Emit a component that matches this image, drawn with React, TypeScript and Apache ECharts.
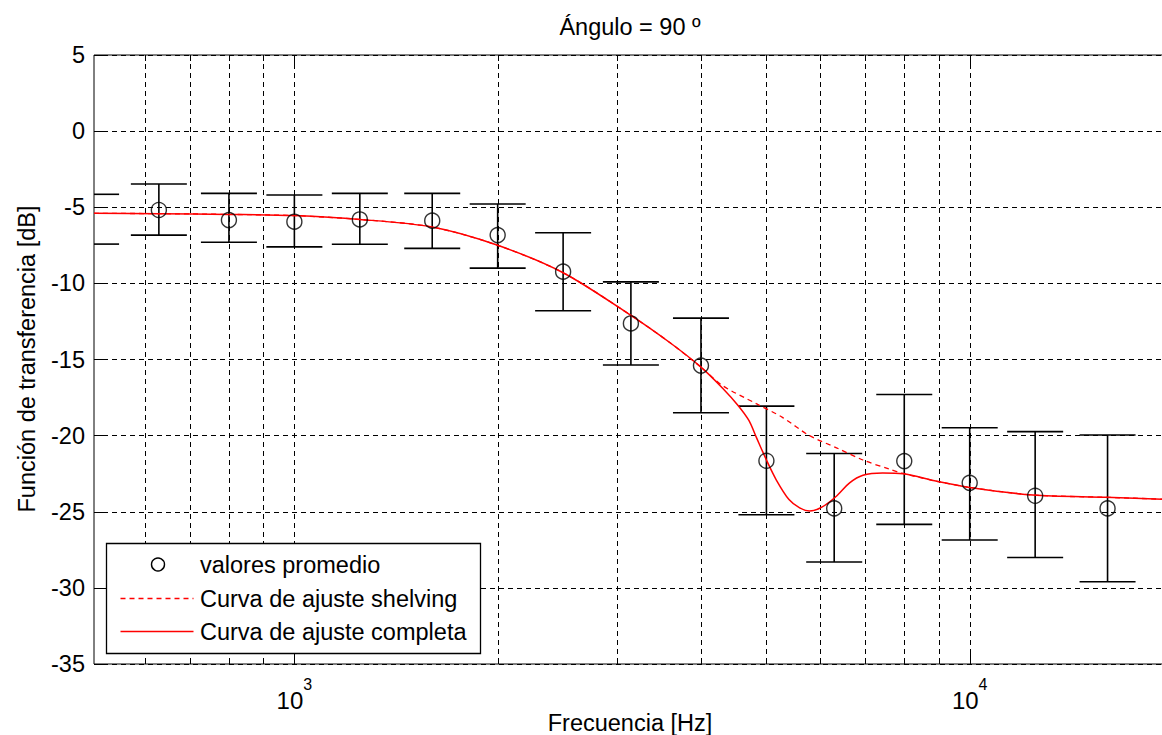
import React, { useEffect, useRef } from 'react';
import * as echarts from 'echarts';

// ---- axis ranges ----
const X_MIN = 505;
const X_MAX = 20000;
const Y_MIN = -35;
const Y_MAX = 5;
const Y_STEP = 5;

// ---- measured points (third-octave bands) ----
const freqs = [500, 630, 800, 1000, 1250, 1600, 2000, 2500, 3150, 4000, 5000, 6300, 8000, 10000, 12500, 16000];
const means = [-5.8, -5.18, -5.84, -5.95, -5.8, -5.88, -6.83, -9.23, -12.63, -15.4, -21.65, -24.78, -21.67, -23.1, -23.95, -24.78];
const upper = [-4.15, -3.47, -4.09, -4.2, -4.09, -4.09, -4.79, -6.67, -9.9, -12.28, -18.06, -21.17, -17.3, -19.48, -19.74, -19.96];
const lower = [-7.42, -6.83, -7.3, -7.6, -7.43, -7.7, -9.0, -11.8, -15.36, -18.5, -25.2, -28.3, -25.83, -26.86, -28.0, -29.6];

// ---- complete fit curve ----
const fullFreqs = [505, 630, 800, 1000, 1250, 1600, 2000, 2500, 3150, 3600, 4000, 4310, 4536, 4710, 4830, 5000, 5170, 5400, 5600, 5790, 6040, 6340, 6640, 6950, 7430, 7970, 8940, 10000, 12400, 15900, 20000];
const fullDb = [-5.4, -5.42, -5.47, -5.55, -5.8, -6.3, -7.5, -9.3, -12.1, -13.9, -15.5, -16.9, -18.0, -19.0, -20.1, -21.6, -22.9, -24.2, -24.75, -24.95, -24.7, -24.0, -23.1, -22.6, -22.45, -22.5, -23.0, -23.4, -23.9, -24.05, -24.2];

// ---- shelving fit curve ----
const shelfFreqs = [505, 630, 800, 1000, 1250, 1600, 2000, 2500, 3150, 3600, 4000, 4300, 4830, 5280, 5790, 6350, 6950, 7600, 8000, 8940, 10000, 12400, 15900, 20000];
const shelfDb = [-5.4, -5.42, -5.47, -5.55, -5.8, -6.3, -7.5, -9.3, -12.1, -13.9, -15.5, -16.7, -17.9, -18.8, -20.0, -20.8, -21.6, -22.2, -22.5, -23.0, -23.4, -23.9, -24.05, -24.2];

// ---- grid / ticks ----
const gridFreqs = [600, 700, 800, 900, 1000, 2000, 3000, 4000, 5000, 6000, 7000, 8000, 9000, 10000];
const majorFreqs = [1000, 10000];
const xTickValues = [1000, 10000];
const xTickBase = '10';
const xTickExp = ['3', '4'];

const titleText = 'Ángulo = 90 º';
const xTitle = 'Frecuencia [Hz]';
const yTitle = 'Función de transferencia [dB]';
const legendLabels = ['valores promedio', 'Curva de ajuste shelving', 'Curva de ajuste completa'];

const FONT = "'Liberation Sans', Arial, Helvetica, sans-serif";
const RED = '#ff0000';
const GRIDC = '#000000';

export default function App() {
  const ref = useRef<HTMLDivElement>(null);
  useEffect(() => {
    const chart = echarts.init(ref.current!, undefined, { renderer: 'svg' });
    const option: any = {
      animation: false,
      backgroundColor: '#fff',
      grid: {
        left: 94, top: 55, width: 1079, height: 609,
        show: true, borderColor: '#000', borderWidth: 1, backgroundColor: '#fff',
      },
      xAxis: {
        type: 'log', logBase: 10, min: X_MIN, max: X_MAX,
        axisLine: { show: false },
        axisTick: { show: false },
        splitLine: { show: false },
        axisLabel: {
          margin: 12,
          formatter: (v: number) => {
            const i = xTickValues.findIndex((t) => Math.abs(Math.log10(v / t)) < 1e-6);
            return i < 0 ? '' : `{b|${xTickBase}}{s|${xTickExp[i]}}`;
          },
          rich: {
            b: { fontSize: 24, fontFamily: FONT, color: '#000', lineHeight: 36, verticalAlign: 'bottom' },
            s: { fontSize: 16, fontFamily: FONT, color: '#000', lineHeight: 16, verticalAlign: 'top' },
          },
        },
      },
      yAxis: {
        type: 'value', min: Y_MIN, max: Y_MAX, interval: Y_STEP,
        axisLine: { show: false },
        axisTick: { show: true, inside: true, length: 10, lineStyle: { color: '#000', width: 1 } },
        splitLine: { show: true, lineStyle: { color: GRIDC, width: 1, type: [5, 4] } },
        axisLabel: { margin: 9, fontSize: 23.5, fontFamily: FONT, color: '#000' },
      },
      series: [
        {
          type: 'custom', name: 'vgrid', silent: true, z: 1,
          data: gridFreqs.map((f) => [f, Y_MIN]),
          encode: { x: 0, y: 1 },
          renderItem: (params: any, api: any) => {
            const f = api.value(0);
            const cs = params.coordSys;
            const x = Math.round(api.coord([f, Y_MIN])[0]) + 0.5;
            const L = majorFreqs.includes(f) ? 11 : 6;
            return {
              type: 'group',
              children: [
                { type: 'line', shape: { x1: x, y1: cs.y, x2: x, y2: cs.y + cs.height }, style: { stroke: GRIDC, lineWidth: 1, lineDash: [5, 4] } },
                { type: 'line', shape: { x1: x, y1: cs.y, x2: x, y2: cs.y + L }, style: { stroke: '#000', lineWidth: 1 } },
                { type: 'line', shape: { x1: x, y1: cs.y + cs.height - L, x2: x, y2: cs.y + cs.height }, style: { stroke: '#000', lineWidth: 1 } },
              ],
            };
          },
        },
        {
          type: 'custom', name: 'errorbars', silent: true, z: 3,
          data: freqs.map((f, i) => [f, lower[i], upper[i]]),
          encode: { x: 0, y: [1, 2] },
          renderItem: (params: any, api: any) => {
            const f = api.value(0);
            const pLo = api.coord([f, api.value(1)]);
            const pHi = api.coord([f, api.value(2)]);
            const cs = params.coordSys;
            const x = pLo[0];
            const half = 28;
            const xl = Math.max(x - half, cs.x);
            const xr = Math.min(x + half, cs.x + cs.width);
            const st = { stroke: '#000', lineWidth: 1.6 };
            const children: any[] = [];
            if (x >= cs.x && x <= cs.x + cs.width) {
              children.push({ type: 'line', shape: { x1: x, y1: pLo[1], x2: x, y2: pHi[1] }, style: st });
            }
            if (xr > xl) {
              children.push({ type: 'line', shape: { x1: xl, y1: pLo[1], x2: xr, y2: pLo[1] }, style: st });
              children.push({ type: 'line', shape: { x1: xl, y1: pHi[1], x2: xr, y2: pHi[1] }, style: st });
            }
            return { type: 'group', children };
          },
        },
        {
          type: 'line', name: legendLabels[1], z: 4,
          data: shelfFreqs.map((f, i) => [f, shelfDb[i]]),
          smooth: 0.3, showSymbol: false, symbol: 'none',
          lineStyle: { color: RED, width: 1.3, type: [5, 4] },
        },
        {
          type: 'line', name: legendLabels[2], z: 5,
          data: fullFreqs.map((f, i) => [f, fullDb[i]]),
          smooth: 0.3, showSymbol: false, symbol: 'none',
          lineStyle: { color: RED, width: 1.5 },
        },
        {
          type: 'scatter', name: legendLabels[0], z: 6,
          data: freqs.map((f, i) => [f, means[i]]).filter((d) => d[0] >= X_MIN),
          symbol: 'circle', symbolSize: 15,
          itemStyle: { color: 'rgba(0,0,0,0)', borderColor: '#000', borderWidth: 1.4 },
        },
      ],
      graphic: [
        { type: 'text', x: 630, y: 27, z: 100, style: { text: titleText, fontSize: 23.5, fontFamily: FONT, fill: '#000', align: 'center', verticalAlign: 'middle' } },
        { type: 'text', x: 630, y: 723, z: 100, style: { text: xTitle, fontSize: 23.5, fontFamily: FONT, fill: '#000', align: 'center', verticalAlign: 'middle' } },
        { type: 'text', x: 27, y: 359, rotation: Math.PI / 2, z: 100, style: { text: yTitle, fontSize: 23.5, fontFamily: FONT, fill: '#000', align: 'center', verticalAlign: 'middle' } },
        {
          type: 'group', z: 100,
          children: [
            { type: 'rect', z: 100, shape: { x: 106.5, y: 543.5, width: 374, height: 110 }, style: { fill: '#fff', stroke: '#000', lineWidth: 1.3 } },
            { type: 'circle', z: 101, shape: { cx: 158, cy: 564.5, r: 6.5 }, style: { fill: 'none', stroke: '#000', lineWidth: 1.4 } },
            { type: 'line', z: 101, shape: { x1: 120.5, y1: 598.5, x2: 193.5, y2: 598.5 }, style: { stroke: RED, lineWidth: 1.3, lineDash: [5, 4] } },
            { type: 'line', z: 101, shape: { x1: 120.5, y1: 631.5, x2: 193.5, y2: 631.5 }, style: { stroke: RED, lineWidth: 1.5 } },
            { type: 'text', z: 101, x: 200, y: 565, style: { text: legendLabels[0], fontSize: 23.5, fontFamily: FONT, fill: '#000', align: 'left', verticalAlign: 'middle' } },
            { type: 'text', z: 101, x: 200, y: 599, style: { text: legendLabels[1], fontSize: 23.5, fontFamily: FONT, fill: '#000', align: 'left', verticalAlign: 'middle' } },
            { type: 'text', z: 101, x: 200, y: 632, style: { text: legendLabels[2], fontSize: 23.5, fontFamily: FONT, fill: '#000', align: 'left', verticalAlign: 'middle' } },
          ],
        },
      ],
    };
    chart.setOption(option);
    return () => chart.dispose();
  }, []);
  return (
    <div style={{ position: 'fixed', left: 0, top: 0, width: 1162, height: 735, overflow: 'hidden', background: '#fff' }}>
      <div ref={ref} style={{ width: 1190, height: 735 }} />
    </div>
  );
}
